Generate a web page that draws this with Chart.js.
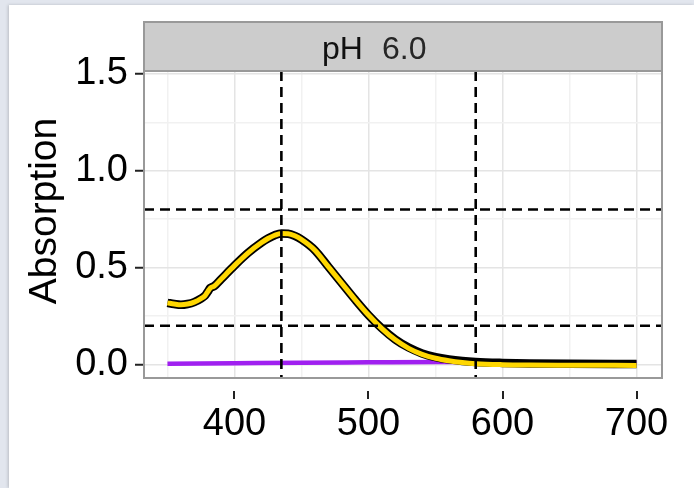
<!DOCTYPE html>
<html>
<head>
<meta charset="utf-8">
<script src="https://cdn.jsdelivr.net/npm/chart.js@4.4.1/dist/chart.umd.min.js"></script>
<style>
  html, body { margin: 0; padding: 0; width: 694px; height: 488px; overflow: hidden; background: #e2e6ee; }
  #card { position: absolute; left: 9px; top: 5px; right: 0; bottom: 0; background: #fff; box-shadow: -1px 0 3px rgba(0,0,0,0.18); }
  #wrap { position: absolute; left: 0; top: 0; width: 694px; height: 488px; }
</style>
</head>
<body>
<div id="card"></div>
<div id="wrap"><canvas id="c" width="694" height="488"></canvas></div>
<script>
"use strict";

// Spectrum at pH 6.0 -- wavelength (nm) vs absorption.
const wavelengths = [350, 355, 360, 365, 370, 375, 378, 380, 382, 385, 390, 400, 410, 420, 425, 430, 435, 440,
  445, 450, 460, 470, 480, 490, 500, 510, 520, 530, 540, 550, 560, 570, 580, 600, 620, 650, 700];
const sampleAbs = [0.318, 0.312, 0.308, 0.312, 0.322, 0.340, 0.355, 0.375, 0.395, 0.405, 0.44, 0.51, 0.575,
  0.628, 0.65, 0.667, 0.676, 0.675, 0.664, 0.645, 0.59, 0.505, 0.42, 0.335, 0.255, 0.185, 0.127, 0.083,
  0.052, 0.032, 0.019, 0.01, 0.004, -0.001, -0.003, -0.004, -0.005];
// replicate drawn underneath (black outline), sits a touch higher in the tail
const replicateAbs = [0.318, 0.312, 0.308, 0.312, 0.322, 0.340, 0.355, 0.375, 0.395, 0.405, 0.44, 0.51, 0.575,
  0.628, 0.65, 0.667, 0.676, 0.675, 0.664, 0.645, 0.59, 0.505, 0.42, 0.335, 0.255, 0.186, 0.129, 0.087,
  0.057, 0.038, 0.026, 0.018, 0.013, 0.008, 0.005, 0.003, 0.002];
const blankWavelengths = [350, 400, 450, 500, 550, 600, 650, 700];
const blankAbs = [0.003, 0.006, 0.009, 0.011, 0.013, 0.012, 0.01, 0.009];

const refX = [435, 580];     // vertical dashed markers
const refY = [0.2, 0.8];     // horizontal dashed markers
const xTicks = [400, 500, 600, 700];
const yTicks = [0.0, 0.5, 1.0, 1.5];
const stripLabel = ["pH", "6.0"];
const yTitle = "Absorption";

const FONT = "'Liberation Sans', Arial, sans-serif";
const pts = (xs, ys) => xs.map((x, i) => ({ x, y: ys[i] }));

// ggplot-ish panel decorations: strip, border, dashed refs, detached x ticks, y title
const panelDeco = {
  id: "panelDeco",
  beforeDatasetsDraw(chart) {
    const { ctx, chartArea: a } = chart;
    ctx.save();
    ctx.fillStyle = "#cccccc";
    ctx.fillRect(a.left, 22, a.right - a.left, a.top - 22);
    ctx.strokeStyle = "#999999";
    ctx.lineWidth = 2;
    ctx.strokeRect(a.left, 22, a.right - a.left, a.top - 22);
    ctx.font = "32px " + FONT;
    ctx.textBaseline = "alphabetic";
    ctx.fillStyle = "#111";
    ctx.fillText(stripLabel[0], 322, 59);
    ctx.fillStyle = "#262626";
    ctx.fillText(stripLabel[1], 382, 59);
    ctx.restore();
  },
  afterDatasetsDraw(chart) {
    const { ctx, chartArea: a, scales: { x, y } } = chart;
    ctx.save();
    ctx.strokeStyle = "#000";
    ctx.lineWidth = 2.6;
    ctx.setLineDash([10, 6]);
    for (const v of refX) {
      const px = x.getPixelForValue(v);
      ctx.beginPath();
      ctx.moveTo(px, a.top);
      ctx.lineTo(px, a.bottom);
      ctx.stroke();
    }
    for (const v of refY) {
      const py = y.getPixelForValue(v);
      ctx.beginPath();
      ctx.moveTo(a.left, py);
      ctx.lineTo(a.right, py);
      ctx.stroke();
    }
    ctx.setLineDash([]);
    ctx.strokeStyle = "#999999";
    ctx.lineWidth = 2;
    ctx.strokeRect(a.left, a.top, a.right - a.left, a.bottom - a.top);
    // x tick marks sit a little below the panel, just over the labels
    ctx.strokeStyle = "#222";
    ctx.lineWidth = 2;
    for (const v of xTicks) {
      const px = Math.round(x.getPixelForValue(v));
      ctx.beginPath();
      ctx.moveTo(px, 391);
      ctx.lineTo(px, 399);
      ctx.stroke();
    }
    ctx.translate(45, 211);
    ctx.rotate(-Math.PI / 2);
    ctx.font = "39px " + FONT;
    ctx.fillStyle = "#000";
    ctx.textAlign = "center";
    ctx.textBaseline = "middle";
    ctx.fillText(yTitle, 0, 0);
    ctx.restore();
  },
};

const isMajor = (v, step) => Math.abs(v / step - Math.round(v / step)) < 1e-6;

new Chart(document.getElementById("c"), {
  type: "line",
  data: {
    datasets: [
      { data: pts(wavelengths, sampleAbs), borderColor: "#ffd700", borderWidth: 5, order: 1 },
      { data: pts(wavelengths, replicateAbs), borderColor: "#000000", borderWidth: 8.5, order: 2 },
      { data: pts(blankWavelengths, blankAbs), borderColor: "#a020f0", borderWidth: 4.5, order: 3 },
    ],
  },
  options: {
    responsive: false,
    animation: false,
    layout: { padding: { left: 0, right: 32, top: 71, bottom: 0 } },
    elements: { point: { radius: 0 }, line: { tension: 0.4, cubicInterpolationMode: "monotone", borderCapStyle: "butt" } },
    plugins: { legend: { display: false }, tooltip: { enabled: false } },
    scales: {
      x: {
        type: "linear",
        min: 332.5,
        max: 719,
        afterFit: (s) => { s.height = 110; },
        border: { display: false },
        grid: {
          drawTicks: false,
          color: (c) => (isMajor(c.tick.value, 100) ? "#e4e4e4" : "#f1f1f1"),
          lineWidth: 1.5,
        },
        ticks: {
          stepSize: 50,
          includeBounds: false,
          autoSkip: false,
          maxRotation: 0,
          padding: 24,
          color: "#000",
          font: { family: FONT, size: 38 },
          callback: (v) => (xTicks.includes(v) ? String(v) : ""),
        },
      },
      y: {
        type: "linear",
        min: -0.07,
        max: 1.515,
        afterFit: (s) => { s.width = 144; },
        border: { display: false },
        grid: {
          drawTicks: true,
          tickLength: 9,
          tickWidth: 2,
          tickColor: (c) => (isMajor(c.tick.value, 0.5) ? "#222" : "rgba(0,0,0,0)"),
          color: (c) => (isMajor(c.tick.value, 0.5) ? "#e4e4e4" : "#f1f1f1"),
          lineWidth: 1.5,
        },
        ticks: {
          stepSize: 0.25,
          includeBounds: false,
          autoSkip: false,
          padding: 7,
          color: "#000",
          font: { family: FONT, size: 38 },
          callback: (v) => (yTicks.some((t) => Math.abs(t - v) < 1e-6) ? Number(v).toFixed(1) : ""),
        },
      },
    },
  },
  plugins: [panelDeco],
});
</script>
</body>
</html>
